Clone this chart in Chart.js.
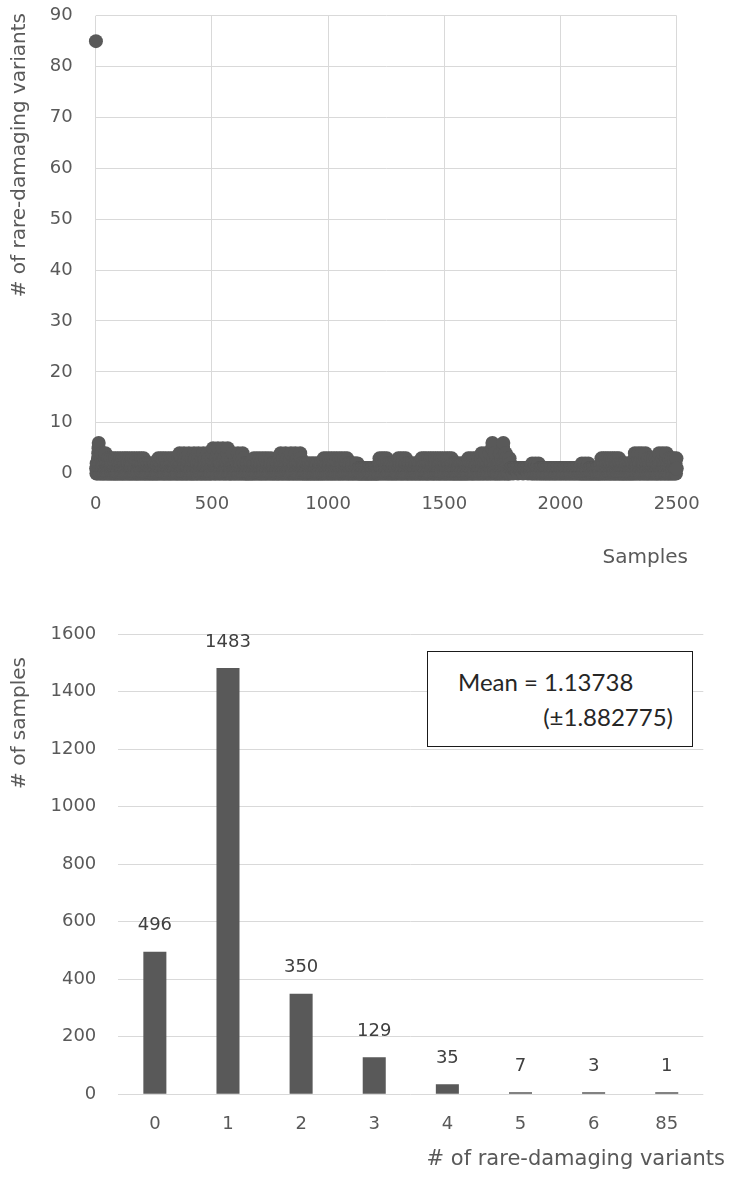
<!DOCTYPE html>
<html>
<head>
<meta charset="utf-8">
<script src="https://cdn.jsdelivr.net/npm/chart.js@4.4.1/dist/chart.umd.min.js"></script>
<style>
  html, body { margin: 0; padding: 0; background: #fff; }
  #page { position: relative; width: 731px; height: 1177px; overflow: hidden; }
  #scatter { position: absolute; left: 0; top: 0; }
  #hist { position: absolute; left: 0; top: 580px; }
  #meanBox {
    position: absolute; left: 427px; top: 651px; width: 264px; height: 94px;
    border: 1.5px solid #1a1a1a; background: #fff;
    font-family: Lato, sans-serif; font-size: 24px; line-height: 24px; color: #262626;
  }
  #meanBox .l1 { position: absolute; left: 30px; top: 18px; white-space: nowrap; }
  #meanBox .l2 { position: absolute; right: 19px; top: 53px; white-space: nowrap; }
</style>
</head>
<body>
<div id="page">
  <canvas id="scatter" width="731" height="580"></canvas>
  <canvas id="hist" width="731" height="597"></canvas>
  <div id="meanBox"><span class="l1">Mean = 1.13738</span><span class="l2">(±1.882775)</span></div>
</div>
<script>
// variant count per sample, stored as stretches along the sample axis:
// each array gives, for every stretch, how many samples carry that count
const levelValues = [0, 1, 2, 3, 4, 5, 6, 85];
const zeroCounts  = [0, 3, 5, 34, 11, 17, 29, 15, 12, 7, 17, 5, 21, 20, 23, 9, 24, 8, 8, 9, 12, 30, 14, 11, 5, 17, 2, 4, 6, 30, 10, 11, 18, 13, 11, 8, 9, 8];
const oneCounts   = [0, 7, 16, 85, 32, 48, 71, 44, 35, 18, 49, 16, 53, 50, 59, 27, 61, 24, 24, 24, 35, 72, 36, 31, 16, 46, 5, 81, 33, 142, 30, 32, 45, 34, 31, 24, 24, 23];
const twoCounts   = [0, 3, 5, 29, 8, 14, 25, 14, 11, 5, 14, 4, 19, 15, 20, 7, 0, 7, 6, 7, 9, 25, 10, 9, 5, 16, 2, 0, 3, 0, 3, 0, 14, 9, 10, 7, 8, 7];
const threeCounts = [0, 1, 2, 16, 0, 8, 10, 5, 4, 0, 7, 0, 7, 0, 10, 0, 0, 4, 0, 4, 0, 14, 0, 5, 2, 5, 1, 0, 0, 0, 0, 0, 9, 0, 4, 4, 3, 4];
const fourCounts  = [0, 1, 2, 0, 0, 0, 7, 4, 3, 0, 0, 0, 5, 0, 0, 0, 0, 0, 0, 0, 0, 0, 0, 0, 2, 4, 0, 0, 0, 0, 0, 0, 0, 0, 4, 0, 3, 0];
const fiveCounts  = [0, 1, 0, 0, 0, 0, 0, 4, 0, 0, 0, 0, 0, 0, 0, 0, 0, 0, 0, 0, 0, 0, 0, 0, 0, 2, 0, 0, 0, 0, 0, 0, 0, 0, 0, 0, 0, 0];
const sixCounts   = [0, 1, 0, 0, 0, 0, 0, 0, 0, 0, 0, 0, 0, 0, 0, 0, 0, 0, 0, 0, 0, 0, 0, 0, 0, 2, 0, 0, 0, 0, 0, 0, 0, 0, 0, 0, 0, 0];
const outlierCounts = [1, 0, 0, 0, 0, 0, 0, 0, 0, 0, 0, 0, 0, 0, 0, 0, 0, 0, 0, 0, 0, 0, 0, 0, 0, 0, 0, 0, 0, 0, 0, 0, 0, 0, 0, 0, 0, 0];

// histogram of the same counts
const histCategories = ['0', '1', '2', '3', '4', '5', '6', '85'];
const histSamples = [496, 1483, 350, 129, 35, 7, 3, 1];

const xTicks = [0, 500, 1000, 1500, 2000, 2500];
const yTicksTop = [0, 10, 20, 30, 40, 50, 60, 70, 80, 90];
const yTicksBottom = [0, 200, 400, 600, 800, 1000, 1200, 1400, 1600];

const GRID = '#d9d9d9';
const INK = '#595959';
const tickFont = { family: 'DejaVu Sans', size: 18 };
const plain = v => String(v);

// fixed axis box, no extra room reserved for the end labels
function fixSize(w, h) {
  return s => {
    if (w != null) s.width = w;
    if (h != null) s.height = h;
    s.paddingTop = s.paddingBottom = s.paddingLeft = s.paddingRight = 0;
  };
}

// spread each stretch's samples evenly along it
function buildSamples() {
  const cols = [zeroCounts, oneCounts, twoCounts, threeCounts, fourCounts, fiveCounts, sixCounts, outlierCounts];
  const pts = [];
  let n = 1;
  for (let s = 0; s < zeroCounts.length; s++) {
    const slots = [];
    cols.forEach((col, k) => {
      for (let i = 0; i < col[s]; i++) slots.push({ pos: (i + 0.5) / col[s], v: levelValues[k] });
    });
    slots.sort((a, b) => a.pos - b.pos);
    slots.forEach(p => pts.push({ x: n++, y: p.v }));
  }
  return pts;
}

function captions(items) {
  return {
    id: 'captions',
    afterDraw(chart) {
      const ctx = chart.ctx;
      items.forEach(c => {
        ctx.save();
        ctx.translate(c.x, c.y);
        if (c.rotate) ctx.rotate(c.rotate);
        ctx.font = c.font;
        ctx.fillStyle = INK;
        ctx.textAlign = c.align;
        ctx.textBaseline = 'middle';
        ctx.fillText(c.text, 0, 0);
        ctx.restore();
      });
    }
  };
}

const barValueLabels = {
  id: 'barValueLabels',
  afterDatasetsDraw(chart) {
    const ctx = chart.ctx;
    const vals = chart.data.datasets[0].data;
    ctx.save();
    ctx.font = '18px "DejaVu Sans"';
    ctx.fillStyle = '#404040';
    ctx.textAlign = 'center';
    ctx.textBaseline = 'middle';
    chart.getDatasetMeta(0).data.forEach((bar, i) => {
      ctx.fillText(String(vals[i]), bar.x, bar.y - 26);
    });
    ctx.restore();
  }
};

new Chart(document.getElementById('scatter'), {
  type: 'scatter',
  data: {
    datasets: [{
      data: buildSamples(),
      pointRadius: 7,
      pointBorderWidth: 0,
      backgroundColor: INK,
      borderColor: INK,
      clip: false
    }]
  },
  options: {
    responsive: false,
    animation: false,
    events: [],
    layout: { autoPadding: false, padding: { left: 0, top: 15.7, right: 54.3, bottom: 0 } },
    plugins: { legend: { display: false }, tooltip: { enabled: false } },
    scales: {
      x: {
        type: 'linear', min: 0, max: 2500,
        afterBuildTicks: s => { s.ticks = xTicks.map(v => ({ value: v })); },
        afterFit: fixSize(null, 106.4),
        grid: { color: GRID, drawTicks: false },
        border: { display: false },
        ticks: { color: INK, font: tickFont, padding: 20, callback: plain }
      },
      y: {
        min: 0, max: 90,
        afterBuildTicks: s => { s.ticks = yTicksTop.map(v => ({ value: v })); },
        afterFit: fixSize(95.7, null),
        grid: { color: GRID, drawTicks: false },
        border: { display: false },
        ticks: { color: INK, font: tickFont, padding: 23, callback: plain }
      }
    }
  },
  plugins: [captions([
    { text: 'Samples', x: 688, y: 558, align: 'right', font: '20px "DejaVu Sans"' },
    { text: '# of rare-damaging variants', x: 20, y: 13, align: 'right', rotate: -Math.PI / 2, font: '20px "DejaVu Sans"' }
  ])]
});

new Chart(document.getElementById('hist'), {
  type: 'bar',
  data: {
    labels: histCategories,
    datasets: [{
      data: histSamples,
      backgroundColor: INK,
      barPercentage: 0.315,
      categoryPercentage: 1,
      minBarLength: 2
    }]
  },
  options: {
    responsive: false,
    animation: false,
    events: [],
    layout: { autoPadding: false, padding: { left: 0, top: 54.3, right: 27.7, bottom: 0 } },
    plugins: { legend: { display: false }, tooltip: { enabled: false } },
    scales: {
      x: {
        afterFit: fixSize(null, 82.7),
        grid: { display: false, drawTicks: false },
        border: { display: false },
        ticks: { color: INK, font: tickFont, padding: 19 }
      },
      y: {
        min: 0, max: 1600,
        afterBuildTicks: s => { s.ticks = yTicksBottom.map(v => ({ value: v })); },
        afterFit: fixSize(118.3, null),
        grid: { color: GRID, drawTicks: false },
        border: { display: false },
        ticks: { color: INK, font: tickFont, padding: 22, callback: plain }
      }
    }
  },
  plugins: [barValueLabels, captions([
    { text: '# of rare-damaging variants', x: 725, y: 580, align: 'right', font: '21px "DejaVu Sans"' },
    { text: '# of samples', x: 20, y: 77, align: 'right', rotate: -Math.PI / 2, font: '20px "DejaVu Sans"' }
  ])]
});
</script>
</body>
</html>
